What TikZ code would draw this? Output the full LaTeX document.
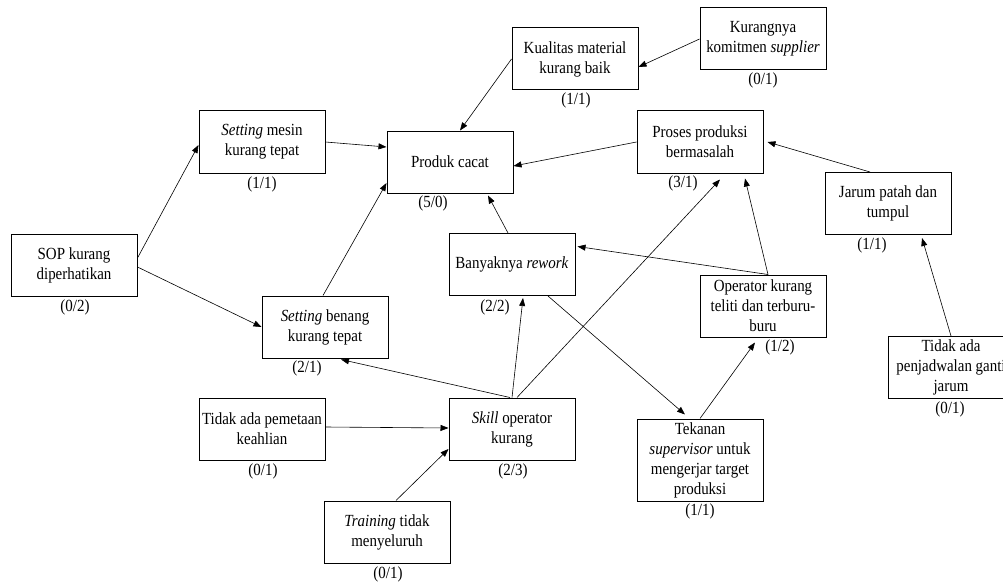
\documentclass[tikz,border=0pt]{standalone}
\usepackage{fontspec}
\setmainfont{Liberation Serif}[FakeStretch=0.88]
\usetikzlibrary{arrows.meta}
\begin{document}
\begin{tikzpicture}[x=1pt,y=-1pt,
  every node/.style={font=\fontsize{17}{20}\selectfont},
  box/.style={draw,line width=1pt,minimum width=126pt,minimum height=62pt,inner sep=0pt,align=center},
  lbl/.style={inner sep=0pt},
  arr/.style={line width=0.6pt,-{Triangle[length=8pt,width=6pt]}}]
\useasboundingbox (0,0) rectangle (1003,583);
\fill[white] (0,0) rectangle (1003,583);
% boxes
\node[box] (sop) at (74,265) {SOP kurang\\diperhatikan};
\node[box] (mesin) at (262,142) {\textit{Setting} mesin\\kurang tepat};
\node[box] (benang) at (325,327) {\textit{Setting} benang\\kurang tepat};
\node[box] (produk) at (450,162) {Produk cacat};
\node[box] (kualitas) at (575,59) {Kualitas material\\kurang baik};
\node[box] (komitmen) at (763,39) {Kurangnya\\komitmen \textit{supplier}};
\node[box] (proses) at (700,142) {Proses produksi\\bermasalah};
\node[box] (jarum) at (888,203.5) {Jarum patah dan\\tumpul};
\node[box] (operator) at (763,306) {Operator kurang\\teliti dan terburu-\\buru};
\node[box] (jadwal) at (951,367.5) {Tidak ada\\penjadwalan ganti\\jarum};
\node[box] (rework) at (512,264.5) {Banyaknya \textit{rework}};
\node[box] (pemetaan) at (262,429) {Tidak ada pemetaan\\keahlian};
\node[box] (skill) at (512,429) {\textit{Skill} operator\\kurang};
\node[box] (training) at (387,532) {\textit{Training} tidak\\menyeluruh};
\node[box,minimum height=82pt] (tekanan) at (700,460) {Tekanan\\\textit{supervisor} untuk\\mengerjar target\\produksi};
% labels
\node[lbl] (lsop) at (75,307) {(0/2)};
\node[lbl] (lmesin) at (262,184) {(1/1)};
\node[lbl] (lbenang) at (307,368) {(2/1)};
\node[lbl] (lproduk) at (433,203) {(5/0)};
\node[lbl] (lkualitas) at (576,100) {(1/1)};
\node[lbl] (lkomitmen) at (763,80) {(0/1)};
\node[lbl] (lproses) at (683,183) {(3/1)};
\node[lbl] (ljarum) at (872,245) {(1/1)};
\node[lbl] (loperator) at (780,347) {(1/2)};
\node[lbl] (ljadwal) at (950,409) {(0/1)};
\node[lbl] (lrework) at (495,307) {(2/2)};
\node[lbl] (lpemetaan) at (263,471) {(0/1)};
\node[lbl] (lskill) at (513,471) {(2/3)};
\node[lbl] (ltraining) at (388,574) {(0/1)};
\node[lbl] (ltekanan) at (700,511) {(1/1)};
% arrows
\draw[arr] ([yshift=7pt]sop.east) -- ([yshift=-3pt]mesin.west);
\draw[arr] ([yshift=-2pt]sop.east) -- (benang.west);
\draw[arr] (mesin.east) -- ([yshift=15pt]produk.west);
\draw[arr] ([xshift=-2pt]benang.north) -- ([yshift=-21pt]produk.west);
\draw[arr] (kualitas.west) -- ([xshift=10pt]produk.north);
\draw[arr] (komitmen.west) -- ([yshift=-8pt]kualitas.east);
\draw[arr] (proses.west) -- ([yshift=-4pt]produk.east);
\draw[arr] ([xshift=-18pt]jarum.north) -- ([xshift=4pt]proses.east);
\draw[arr] (jadwal.north) -- ([xshift=34pt,yshift=-3pt]jarum.south);
\draw[arr] ([xshift=-4pt]rework.north) -- ([xshift=38pt,yshift=-2pt]produk.south);
\draw[arr] ([xshift=5pt]operator.north) -- ([xshift=2pt,yshift=18pt]rework.east);
\draw[arr] ([xshift=5pt]operator.north) -- ([xshift=45pt,yshift=-5pt]proses.south);
\draw[arr] ([xshift=5pt]skill.north) -- ([xshift=20pt,yshift=-6pt]proses.south);
\draw[arr] (skill.north) -- ([xshift=11pt,yshift=-2pt]rework.south);
\draw[arr] ([xshift=-2pt]skill.north) -- ([xshift=16pt,yshift=-1pt]benang.south);
\draw[arr] ([xshift=36pt]rework.south) -- ([xshift=-15pt,yshift=4pt]tekanan.north);
\draw[arr] (tekanan.north) -- ([xshift=-8pt,yshift=-5pt]operator.south);
\draw[arr] ([yshift=2pt]pemetaan.east) -- ([yshift=1pt]skill.west);
\draw[arr] ([xshift=9pt]training.north) -- ([yshift=-20pt]skill.west);
\end{tikzpicture}
\end{document}
